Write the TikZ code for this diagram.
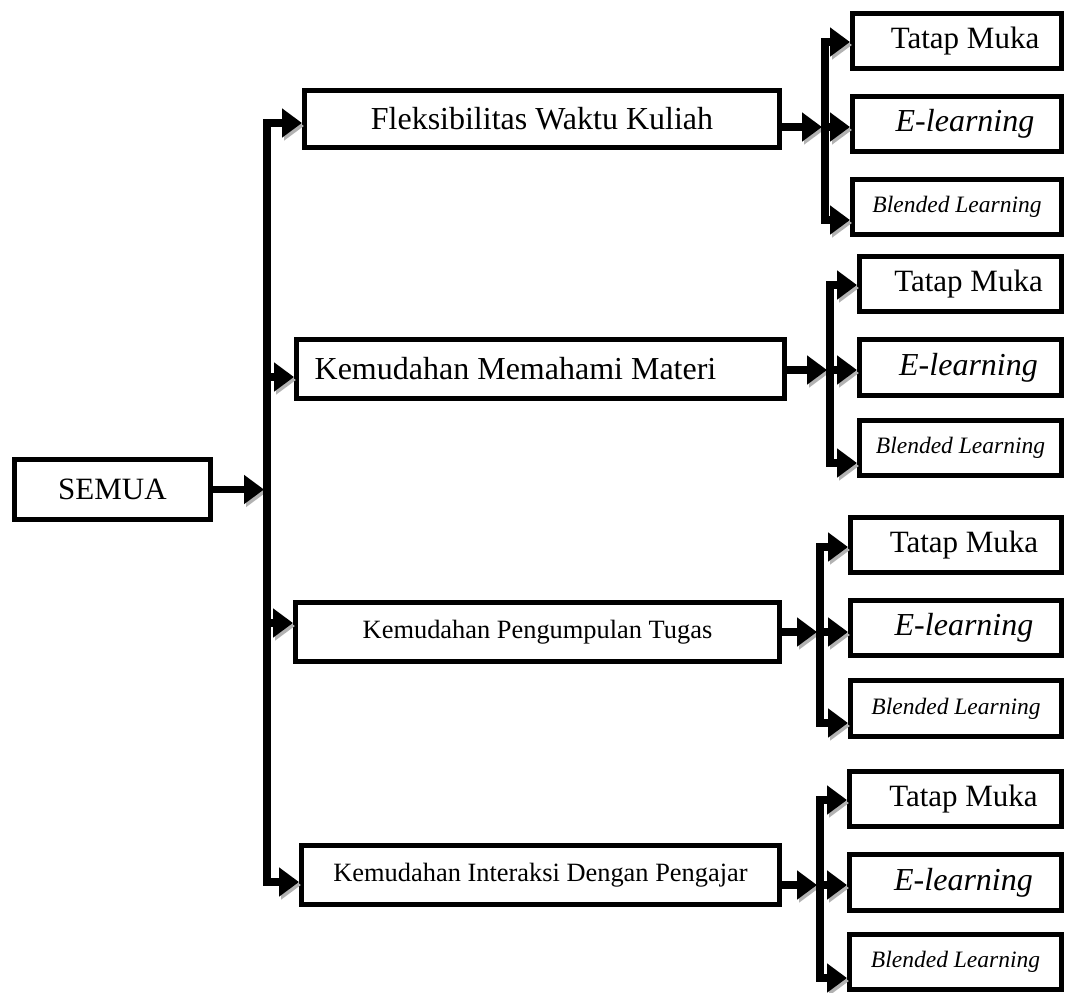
\documentclass[tikz,border=0pt]{standalone}
\usepackage{fontspec}
\setmainfont{Liberation Serif}
\usetikzlibrary{arrows.meta,calc}

\tikzset{
  box/.style={draw, line width=2.6pt, inner sep=0pt, minimum height=29.4pt},
  sub/.style={box, minimum height=27.8pt, anchor=west},
  conn/.style={line width=3.8pt, line join=miter, -{Triangle[length=10pt,width=14pt]},
    preaction={draw=black!30, transform canvas={shift={(1pt,-1.5pt)}}}},
  fork/.style={conn, {Triangle[length=10pt,width=14pt]}-{Triangle[length=10pt,width=14pt]}},
}

\begin{document}
\begin{tikzpicture}[x=0.5pt,y=-0.5pt]
  \useasboundingbox (0,0) rectangle (1065,992);
  % first level
  \node[box, minimum width=97.9pt, minimum height=29.9pt, font=\fontsize{15.5}{18}\selectfont] (semua) at (112.5,489.5) {SEMUA};
  \node[box, minimum width=237.4pt, minimum height=28.4pt, font=\fontsize{16}{19}\selectfont] (fleks) at (542,119) {Fleksibilitas Waktu Kuliah};
  \node[box, minimum width=243.9pt, font=\fontsize{16}{19}\selectfont] (materi) at (540.5,369) {Kemudahan Memahami Materi\hspace*{25pt}};
  \node[box, minimum width=241.9pt, font=\fontsize{13.2}{16}\selectfont] (tugas) at (537.5,632) {Kemudahan Pengumpulan Tugas};
  \node[box, minimum width=238.9pt, font=\fontsize{13.2}{16}\selectfont] (interaksi) at (540.5,875) {Kemudahan Interaksi Dengan Pengajar};
  % trunk
  \coordinate (j) at (264,489.5);
  \coordinate (t1) at (267,123);
  \coordinate (t2) at (267,377);
  \coordinate (t3) at (267,623);
  \coordinate (t4) at (267,882);
  \draw[conn] (semua) -- (j);
  \draw[fork] (t1 -| fleks.west) -- (t1) -- (t4) -- (t4 -| interaksi.west);
  \draw[conn] (t2) -- (t2 -| materi.west);
  \draw[conn] (t3) -- (t3 -| tugas.west);
  % second level
  \foreach \g/\p/\xl/\ya/\yb/\yc/\xt/\ta/\tm/\tb in {
      1/fleks/850/41/124/207/825/42/127/220,
      2/materi/857/284/367.5/448/830/285/370/463,
      3/tugas/848/545/628/708.5/820/547/632/723,
      4/interaksi/847/799/882.5/962/820/800/885/978}{
    \node[sub, minimum width={(1064-\xl-5.2)*0.5pt}, font=\fontsize{15.5}{18}\selectfont] (tm\g) at (\xl,\ya) {\hspace*{8pt}Tatap Muka};
    \node[sub, minimum width={(1064-\xl-5.2)*0.5pt}, font=\fontsize{16}{19}\itshape] (el\g) at (\xl,\yb) {\hspace*{8pt}E-learning};
    \node[sub, minimum width={(1064-\xl-5.2)*0.5pt}, font=\fontsize{11.75}{14}\itshape] (bl\g) at (\xl,\yc) {Blended Learning};
    \coordinate (a\g) at (\xt,\ta);
    \coordinate (m\g) at (\xt,\tm);
    \coordinate (b\g) at (\xt,\tb);
    \draw[conn] (\p.east |- m\g) -- ($(m\g)+(-3,0)$);
    \draw[fork] (a\g -| tm\g.west) -- (a\g) -- (b\g) -- (b\g -| bl\g.west);
    \draw[conn] (m\g) -- (m\g -| el\g.west);
  }
\end{tikzpicture}
\end{document}
